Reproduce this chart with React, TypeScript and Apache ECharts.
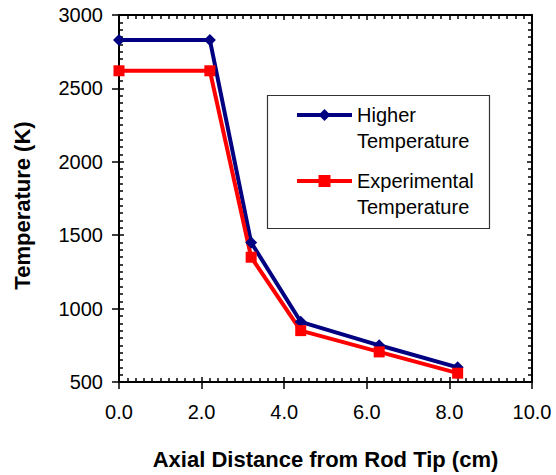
import React, { useEffect, useRef } from "react";
import * as echarts from "echarts";

const distances = [0.0, 2.2, 3.2, 4.4, 6.3, 8.2];
const higherTemp = [2830, 2830, 1450, 910, 750, 600];
const experimentalTemp = [2620, 2620, 1350, 850, 705, 560];
const seriesNames = ["Higher Temperature", "Experimental Temperature"];
const xTitle = "Axial Distance from Rod Tip (cm)";
const yTitle = "Temperature (K)";

const FONT = "'Liberation Sans', Arial, Helvetica, sans-serif";
const TICK = { color: "#000", width: 1.5 };

export default function App() {
  const ref = useRef<HTMLDivElement>(null);
  useEffect(() => {
    if (!ref.current) return;
    const chart = echarts.init(ref.current, undefined, { renderer: "svg" });
    const xCommon = () => ({ type: "value", min: 0, max: 10, interval: 2, splitLine: { show: false } });
    const yCommon = () => ({ type: "value", min: 500, max: 3000, interval: 500, splitLine: { show: false } });
    const axisLine = () => ({ show: true, onZero: false, lineStyle: { color: "#000", width: 2 } });
    chart.setOption({
      animation: false,
      backgroundColor: "#fff",
      textStyle: { fontFamily: FONT },
      grid: { left: 119, right: 24, top: 15, bottom: 92 },
      xAxis: [
        {
          ...xCommon(),
          position: "bottom",
          axisLine: axisLine(),
          axisTick: { show: true, inside: true, length: 5, lineStyle: { ...TICK } },
          minorTick: { show: true, splitNumber: 10, length: 4, lineStyle: { ...TICK } },
          axisLabel: {
            margin: 20,
            fontSize: 20,
            color: "#000",
            fontFamily: FONT,
            formatter: (v: number) => v.toFixed(1),
          },
          name: xTitle,
          nameLocation: "middle",
          nameGap: 66,
          nameTextStyle: { fontSize: 22, fontWeight: "bold", color: "#000", fontFamily: FONT },
        },
        {
          ...xCommon(),
          position: "bottom",
          axisLine: { show: false, onZero: false },
          axisTick: { show: true, inside: false, length: 7, lineStyle: { ...TICK } },
          axisLabel: { show: false },
        },
        {
          ...xCommon(),
          position: "top",
          axisLine: axisLine(),
          axisTick: { show: true, inside: true, length: 5, lineStyle: { ...TICK } },
          minorTick: { show: true, splitNumber: 10, length: 4, lineStyle: { ...TICK } },
          axisLabel: { show: false },
        },
      ],
      yAxis: [
        {
          ...yCommon(),
          position: "left",
          axisLine: axisLine(),
          axisTick: { show: true, inside: true, length: 5, lineStyle: { ...TICK } },
          minorTick: { show: true, splitNumber: 10, length: 4, lineStyle: { ...TICK } },
          axisLabel: { margin: 16, fontSize: 20, color: "#000", fontFamily: FONT, formatter: (v: number) => String(v) },
          name: yTitle,
          nameLocation: "middle",
          nameGap: 86,
          nameTextStyle: { fontSize: 22, fontWeight: "bold", color: "#000", fontFamily: FONT, padding: [0, 14, 0, 0] },
        },
        {
          ...yCommon(),
          position: "left",
          axisLine: { show: false, onZero: false },
          axisTick: { show: true, inside: false, length: 7, lineStyle: { ...TICK } },
          axisLabel: { show: false },
        },
        {
          ...yCommon(),
          position: "right",
          axisLine: axisLine(),
          axisTick: { show: true, inside: true, length: 5, lineStyle: { ...TICK } },
          minorTick: { show: true, splitNumber: 10, length: 4, lineStyle: { ...TICK } },
          axisLabel: { show: false },
        },
      ],
      legend: {
        orient: "vertical",
        left: 295,
        top: 76,
        padding: 0,
        itemWidth: 55,
        itemHeight: 15,
        itemGap: -12,
        selectedMode: false,
        lineStyle: { width: 4 },
        formatter: (name: string) => "\n" + name.replace(" ", "\n"),
        textStyle: {
          fontSize: 20,
          lineHeight: 26,
          color: "#000",
          fontFamily: FONT,
        },
        data: seriesNames,
      },
      graphic: [
        {
          type: "rect",
          z: 0,
          shape: { x: 267.5, y: 95.5, width: 222, height: 133 },
          style: { fill: "#fff", stroke: "#333", lineWidth: 1.2 },
        },
      ],
      series: [
        {
          name: seriesNames[0],
          type: "line",
          xAxisIndex: 0,
          yAxisIndex: 0,
          data: distances.map((d, i) => [d, higherTemp[i]]),
          symbol: "diamond",
          symbolSize: 12,
          lineStyle: { color: "#000080", width: 4 },
          itemStyle: { color: "#000080" },
        },
        {
          name: seriesNames[1],
          type: "line",
          xAxisIndex: 0,
          yAxisIndex: 0,
          data: distances.map((d, i) => [d, experimentalTemp[i]]),
          symbol: "rect",
          symbolSize: 11,
          lineStyle: { color: "#ff0000", width: 4 },
          itemStyle: { color: "#ff0000" },
        },
      ],
    });
    return () => chart.dispose();
  }, []);
  return (
    <div
      ref={ref}
      style={{ position: "absolute", left: 0, top: 0, width: 556, height: 475 }}
    />
  );
}
